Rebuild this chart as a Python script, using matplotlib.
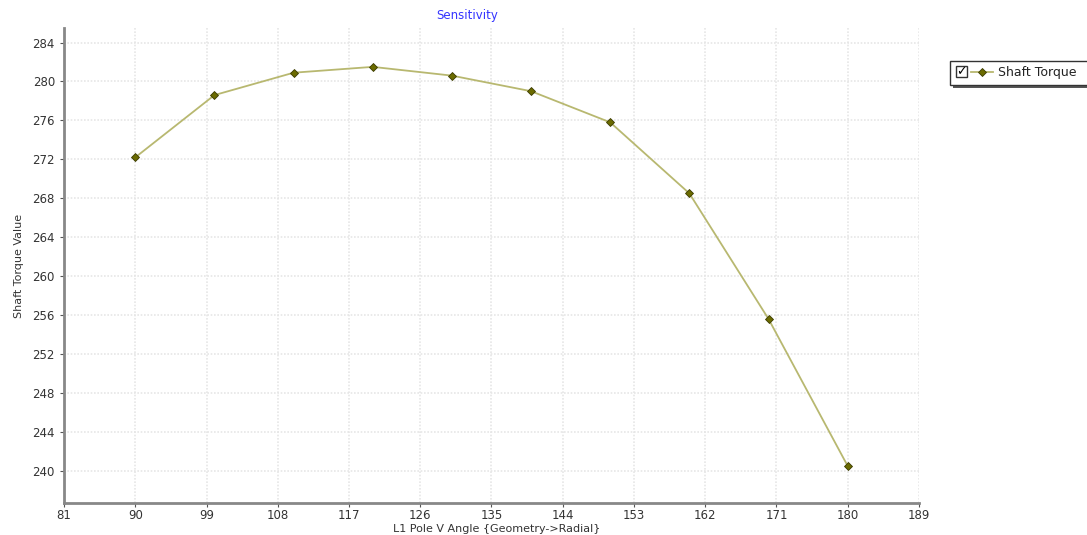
import matplotlib.pyplot as plt
from matplotlib.lines import Line2D
from matplotlib.patches import Rectangle

angulo = [90, 100, 110, 120, 130, 140, 150, 160, 170, 180]
torque = [272.2, 278.6, 280.9, 281.5, 280.6, 279.0, 275.8, 268.5, 255.6, 240.5]
xticks = [81, 90, 99, 108, 117, 126, 135, 144, 153, 162, 171, 180, 189]
yticks = [240, 244, 248, 252, 256, 260, 264, 268, 272, 276, 280, 284]

W, H = 1087, 535
fig = plt.figure(figsize=(W / 100, H / 100), dpi=100)
ax = fig.add_axes([0.0589, 0.0598, 0.7865, 0.888])

ax.plot(angulo, torque, color='#b8b870', lw=1.3, marker='D', ms=4.5,
        mfc='#6b6b00', mec='#3a3a00', mew=0.6, zorder=3)

ax.set_xlim(81, 189)
ax.set_ylim(236.7, 285.5)
ax.set_xticks(xticks)
ax.set_yticks(yticks)
ax.grid(True, color='#e6e6e6', ls=(0, (1, 1)), lw=1.2)
ax.tick_params(labelsize=8.5, colors='#555555', labelcolor='#333333', length=3)
ax.tick_params(axis='x', pad=1)

for s in ['top', 'right']:
    ax.spines[s].set_visible(False)
for s in ['left', 'bottom']:
    ax.spines[s].set_color('#888888')
    ax.spines[s].set_linewidth(2)

ax.set_ylabel('Shaft Torque Value', fontsize=8, color='#333333', labelpad=6)
fig.text(497 / W, 1 - 529 / H, 'L1 Pole V Angle {Geometry->Radial}', fontsize=8,
         color='#333333', ha='center', va='center')
fig.text(467 / W, 1 - 16 / H, 'Sensitivity', color='#3333ff', fontsize=8.5,
         ha='center', va='center')

# leyenda dibujada a mano (caja con sombra y casilla marcada)
def fx(px):
    return px / W

def fy(py):
    return 1 - py / H

fig.add_artist(Rectangle((fx(953), fy(88)), fx(140), 24 / H, transform=fig.transFigure,
                         facecolor='#555555', edgecolor='none', zorder=1))
fig.add_artist(Rectangle((fx(950), fy(85)), fx(140), 24 / H, transform=fig.transFigure,
                         facecolor='white', edgecolor='#333333', lw=1, zorder=2))
fig.add_artist(Rectangle((fx(956), fy(77)), fx(11), 11 / H, transform=fig.transFigure,
                         facecolor='white', edgecolor='#333333', lw=1, zorder=3))
fig.text(fx(961.5), fy(72), '✓', fontsize=9, fontweight='bold', ha='center', va='center', zorder=4)
fig.add_artist(Line2D([fx(971), fx(993)], [fy(72), fy(72)], transform=fig.transFigure,
                      color='#b8b870', lw=1.3, zorder=3))
fig.add_artist(Line2D([fx(982)], [fy(72)], transform=fig.transFigure, marker='D', ms=4.5,
                      mfc='#6b6b00', mec='#3a3a00', mew=0.6, zorder=4))
fig.text(fx(998), fy(72), 'Shaft Torque', fontsize=9, color='#222222', ha='left', va='center', zorder=4)

fig.savefig('out.png', dpi=100)
